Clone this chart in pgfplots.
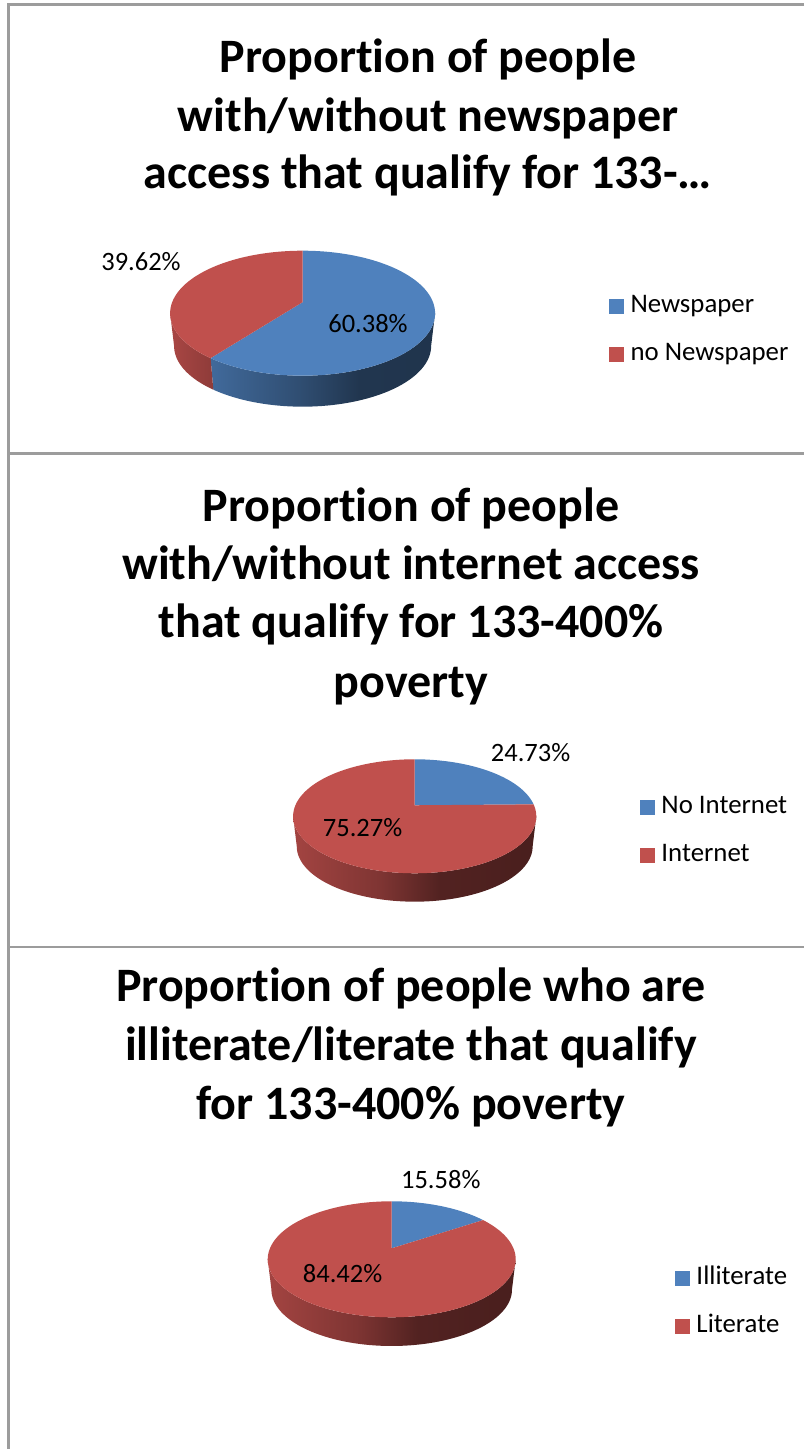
\documentclass[border=0pt]{standalone}
\usepackage{fontspec}
\setmainfont[RawFeature={-liga}]{Carlito}
\usepackage{pgfplots}
\pgfplotsset{compat=1.18}

\definecolor{pieblue}{HTML}{4F81BD}
\definecolor{piered}{HTML}{C0504D}
\definecolor{framegray}{HTML}{9C9C9C}

% Side-wall gradients; the inner 25-75bp span covers the wall's width
\pgfdeclarehorizontalshading{blueWall}{100bp}{color(0bp)=(pieblue!82!black);color(25bp)=(pieblue!82!black);color(45bp)=(pieblue!60!black);color(58bp)=(pieblue!42!black);color(100bp)=(pieblue!38!black)}
\pgfdeclarehorizontalshading{redWallShort}{100bp}{color(0bp)=(piered!88!black);color(25bp)=(piered!88!black);color(75bp)=(piered!74!black);color(100bp)=(piered!74!black)}
\pgfdeclarehorizontalshading{redWall}{100bp}{color(0bp)=(piered!85!black);color(25bp)=(piered!85!black);color(43bp)=(piered!66!black);color(55bp)=(piered!43!black);color(75bp)=(piered!38!black);color(100bp)=(piered!38!black)}

\pgfplotsset{
  panel/.style={
    at={(0pt,0pt)}, anchor=south west, scale only axis,
    width=804pt, height=1449pt,
    xmin=0, xmax=804, ymin=-1449, ymax=0,
    hide axis, clip=false,
    legend cell align=left,
    legend image code/.code={\fill[##1] (0pt,-6.5pt) rectangle (15pt,8.5pt);},
    legend style={draw=none, fill=none, font=\fontsize{26.8}{26.8}\selectfont,
      anchor=north west, inner sep=0pt, outer sep=0pt, row sep=25pt,
      nodes={inner xsep=6.5pt, inner ysep=0pt, text height=17pt, text depth=6pt}},
  },
}
\tikzset{
  title line/.style={font=\fontsize{48}{48}\selectfont\bfseries, anchor=base, inner sep=0pt},
  data label/.style={font=\fontsize{26.5}{26.5}\selectfont, anchor=center, inner sep=0pt},
}

% Projection of a pie angle (clockwise from the top) onto the tilted disc
\newcommand\discpoint[1]{%
  \pgfmathsetmacro\pu{sin(#1)*sqrt(1-\dd*\dd)/(1+\dd*cos(#1))}%
  \pgfmathsetmacro\pv{(-cos(#1)-\dd)/(1+\dd*cos(#1))}%
}
\newcommand\polyplot[2]{\edef\tmp{\noexpand\addplot[#1] coordinates {#2};}\tmp}

% Disc parameters: centre x, centre y, radius x, radius y, wall depth
\newcommand\setdisc[5]{%
  \def\cx{#1}\def\cy{#2}\def\rx{#3}\def\ry{#4}\def\depth{#5}%
  \pgfmathsetmacro\dd{11/#4}%
  \pgfmathsetmacro\edgeangle{acos(-\dd)}%
}
% Top face of the slice between two angles
\newcommand\slicetop[3]{%
  \pgfmathsetmacro\ax{\cx}\pgfmathsetmacro\ay{-(\cy-\ry*\dd)}%
  \xdef\ptlist{(\ax,\ay)}%
  \pgfmathtruncatemacro\nn{max(2,(#2-#1)/2)}%
  \foreach \k in {0,...,\nn}{%
    \pgfmathsetmacro\th{#1+(#2-#1)/\nn*\k}%
    \discpoint{\th}%
    \pgfmathsetmacro\X{\cx+\rx*\pu}\pgfmathsetmacro\Y{-(\cy+\ry*\pv)}%
    \xdef\ptlist{\ptlist (\X,\Y)}%
  }%
  \polyplot{#3}{\ptlist}%
}
% Visible outer wall of the slice between two angles
\newcommand\slicewall[3]{%
  \pgfmathsetmacro\lo{max(#1,\edgeangle)}%
  \pgfmathsetmacro\hi{min(#2,360-\edgeangle)}%
  \pgfmathtruncatemacro\nn{max(2,(\hi-\lo)/2)}%
  \xdef\ptlist{}%
  \foreach \k in {0,...,\nn}{%
    \pgfmathsetmacro\th{\lo+(\hi-\lo)/\nn*\k}%
    \discpoint{\th}%
    \pgfmathsetmacro\X{\cx+\rx*\pu}\pgfmathsetmacro\Y{-(\cy+\ry*\pv)}%
    \xdef\ptlist{\ptlist (\X,\Y)}%
  }%
  \foreach \k in {\nn,...,0}{%
    \pgfmathsetmacro\th{\lo+(\hi-\lo)/\nn*\k}%
    \discpoint{\th}%
    \pgfmathsetmacro\X{\cx+0.97*\rx*\pu}\pgfmathsetmacro\Y{-(\cy+\depth+0.03*\ry+0.97*\ry*\pv)}%
    \xdef\ptlist{\ptlist (\X,\Y)}%
  }%
  \polyplot{#3}{\ptlist}%
}

\begin{document}
\begin{tikzpicture}
\useasboundingbox (0pt,0pt) rectangle (804pt,1449pt);

% Newspaper access
\begin{axis}[panel, legend style={at={(609/804,{1-296/1449})}}]
  \addplot[draw=framegray, line width=2.6pt, forget plot] coordinates {(804,-4.5) (8.7,-4.5) (8.7,-1449)};
  \addplot[draw=framegray, line width=2.8pt, forget plot] coordinates {(8.7,-453.3) (804,-453.3)};
  \setdisc{302.6}{313.2}{132.5}{62.5}{31}
  \pgfmathsetmacro\split{3.6*60.38}
  \slicewall{0}{\split}{shade, shading=blueWall, draw=none, forget plot}
  \slicewall{\split}{360}{shade, shading=redWallShort, draw=none, forget plot}
  \slicetop{0}{\split}{fill=pieblue, draw=none}
  \addlegendentry{Newspaper}
  \slicetop{\split}{360}{fill=piered, draw=none}
  \addlegendentry{no Newspaper}
  \node[title line] at (axis cs:428,-72.5) {Proportion of people};
  \node[title line] at (axis cs:428,-131.5) {with/without newspaper};
  \node[title line] at (axis cs:428,-189) {access that qualify for 133-…};
  \node[data label] at (axis cs:141,-262) {39.62\%};
  \node[data label] at (axis cs:368,-324) {60.38\%};
\end{axis}

% Internet access
\begin{axis}[panel, legend style={at={(640/804,{1-797/1449})}}]
  \addplot[draw=framegray, line width=2.8pt, forget plot] coordinates {(8.7,-947) (804,-947)};
  \setdisc{414.7}{816.3}{121.6}{57}{28.4}
  \pgfmathsetmacro\split{3.6*24.73}
  \slicewall{\split}{360}{shade, shading=redWall, draw=none, forget plot}
  \slicetop{0}{\split}{fill=pieblue, draw=none}
  \addlegendentry{No Internet}
  \slicetop{\split}{360}{fill=piered, draw=none}
  \addlegendentry{Internet}
  \node[title line] at (axis cs:411,-522) {Proportion of people};
  \node[title line] at (axis cs:411,-580) {with/without internet access};
  \node[title line] at (axis cs:411,-638) {that qualify for 133-400\%};
  \node[title line] at (axis cs:411,-698) {poverty};
  \node[data label] at (axis cs:530.6,-752.7) {24.73\%};
  \node[data label] at (axis cs:362.6,-828) {75.27\%};
\end{axis}

% Literacy
\begin{axis}[panel, legend style={at={(675/804,{1-1268/1449})}}]
  \setdisc{391.7}{1259.3}{124}{58}{28.7}
  \pgfmathsetmacro\split{3.6*15.58}
  \slicewall{\split}{360}{shade, shading=redWall, draw=none, forget plot}
  \slicetop{0}{\split}{fill=pieblue, draw=none}
  \addlegendentry{Illiterate}
  \slicetop{\split}{360}{fill=piered, draw=none}
  \addlegendentry{Literate}
  \node[title line] at (axis cs:411,-1002) {Proportion of people who are};
  \node[title line] at (axis cs:411,-1061) {illiterate/literate that qualify};
  \node[title line] at (axis cs:411,-1120) {for 133-400\% poverty};
  \node[data label] at (axis cs:440.8,-1180) {15.58\%};
  \node[data label] at (axis cs:342.6,-1274) {84.42\%};
\end{axis}

\end{tikzpicture}
\end{document}
